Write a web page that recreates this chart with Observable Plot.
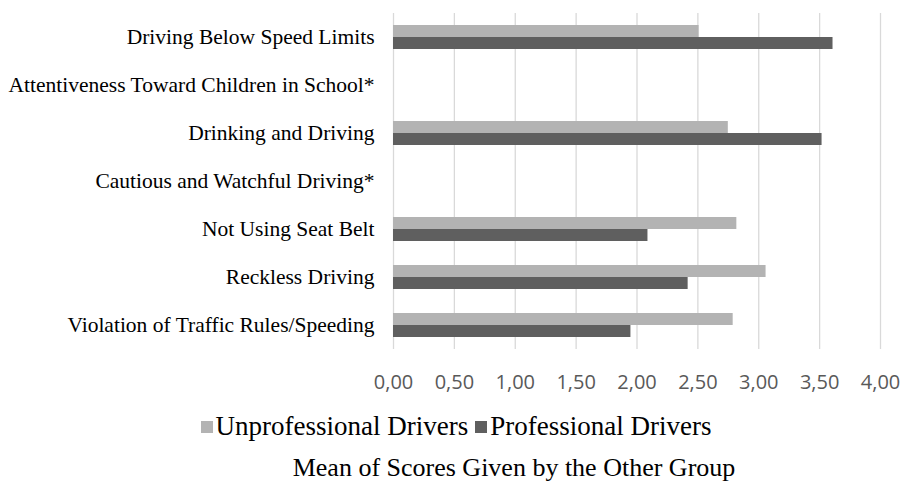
<!DOCTYPE html>
<html>
<head>
<meta charset="utf-8">
<script src="https://cdn.jsdelivr.net/npm/d3@7"></script>
<script src="https://cdn.jsdelivr.net/npm/@observablehq/plot@0.6"></script>
<style>
  html, body { margin: 0; padding: 0; background: #fff; }
  body { width: 912px; height: 484px; position: relative; overflow: hidden; }
  #chart { position: absolute; left: 0; top: 0; }
  #legend { position: absolute; left: 0; top: 410px; width: 912px; }
  #title { position: absolute; left: 116px; right: 0; top: 453px; text-align: center;
           font-family: "Liberation Serif", "Times New Roman", serif; font-size: 26px;
           color: #000; line-height: normal; white-space: nowrap; }
  div.lg-swatches { justify-content: center !important; }
  div.lg-swatches .lg-swatch { margin-right: 7px !important; }
  div.lg-swatches .lg-swatch:last-child { margin-right: 0 !important; }
  div.lg-swatches .lg-swatch > svg { margin-right: 3px !important; }
</style>
</head>
<body>
<div id="chart"></div>
<div id="legend"></div>
<div id="title"></div>
<script>
// ---- data ----
const categories = [
  "Driving Below Speed Limits",
  "Attentiveness Toward Children in School*",
  "Drinking and Driving",
  "Cautious and Watchful Driving*",
  "Not Using Seat Belt",
  "Reckless Driving",
  "Violation of Traffic Rules/Speeding"
];
const series = ["Unprofessional Drivers", "Professional Drivers"];
const unprofessional = [2.51, null, 2.75, null, 2.82, 3.06, 2.79];
const professional   = [3.61, null, 3.52, null, 2.09, 2.42, 1.95];
const xTicks = [0, 0.5, 1, 1.5, 2, 2.5, 3, 3.5, 4];
const titleText = "Mean of Scores Given by the Other Group";
const colors = ["#b3b3b3", "#5f5f5f"];

// ---- table ----
const data = [];
categories.forEach((c, i) => {
  data.push({category: c, series: series[0], value: unprofessional[i]});
  data.push({category: c, series: series[1], value: professional[i]});
});

const fmt = d => d.toFixed(2).replace(".", ",");

const chart = Plot.plot({
  width: 912,
  height: 395,
  marginLeft: 393,
  marginRight: 32,
  marginTop: 11,
  marginBottom: 45,
  x: {domain: [0, 4]},
  y: {domain: series, axis: null, paddingInner: 0, paddingOuter: 0.95},
  fy: {domain: categories, padding: 0},
  color: {domain: series, range: colors},
  style: {background: "#fff"},
  marks: [
    Plot.gridX(xTicks, {stroke: "#d9d9d9", strokeOpacity: 1, strokeWidth: 1.3}),
    Plot.barX(data, {x: "value", y: "series", fy: "category", fill: "series"}),
    Plot.axisX(xTicks, {tickSize: 0, tickPadding: 25, tickFormat: fmt, fontSize: 20,
      fontFamily: "Open Sans", fill: "#595959", label: null}),
    Plot.axisFy({anchor: "left", tickSize: 0, tickPadding: 19, fontSize: 21.5,
      fontFamily: "Liberation Serif", fill: "#000", label: null})
  ]
});
document.getElementById("chart").appendChild(chart);

const legend = chart.legend("color", {
  swatchSize: 12,
  className: "lg",
  style: {fontSize: "27px", fontFamily: "Liberation Serif", color: "#000"}
});
document.getElementById("legend").appendChild(legend);
document.getElementById("title").textContent = titleText;
</script>
</body>
</html>
